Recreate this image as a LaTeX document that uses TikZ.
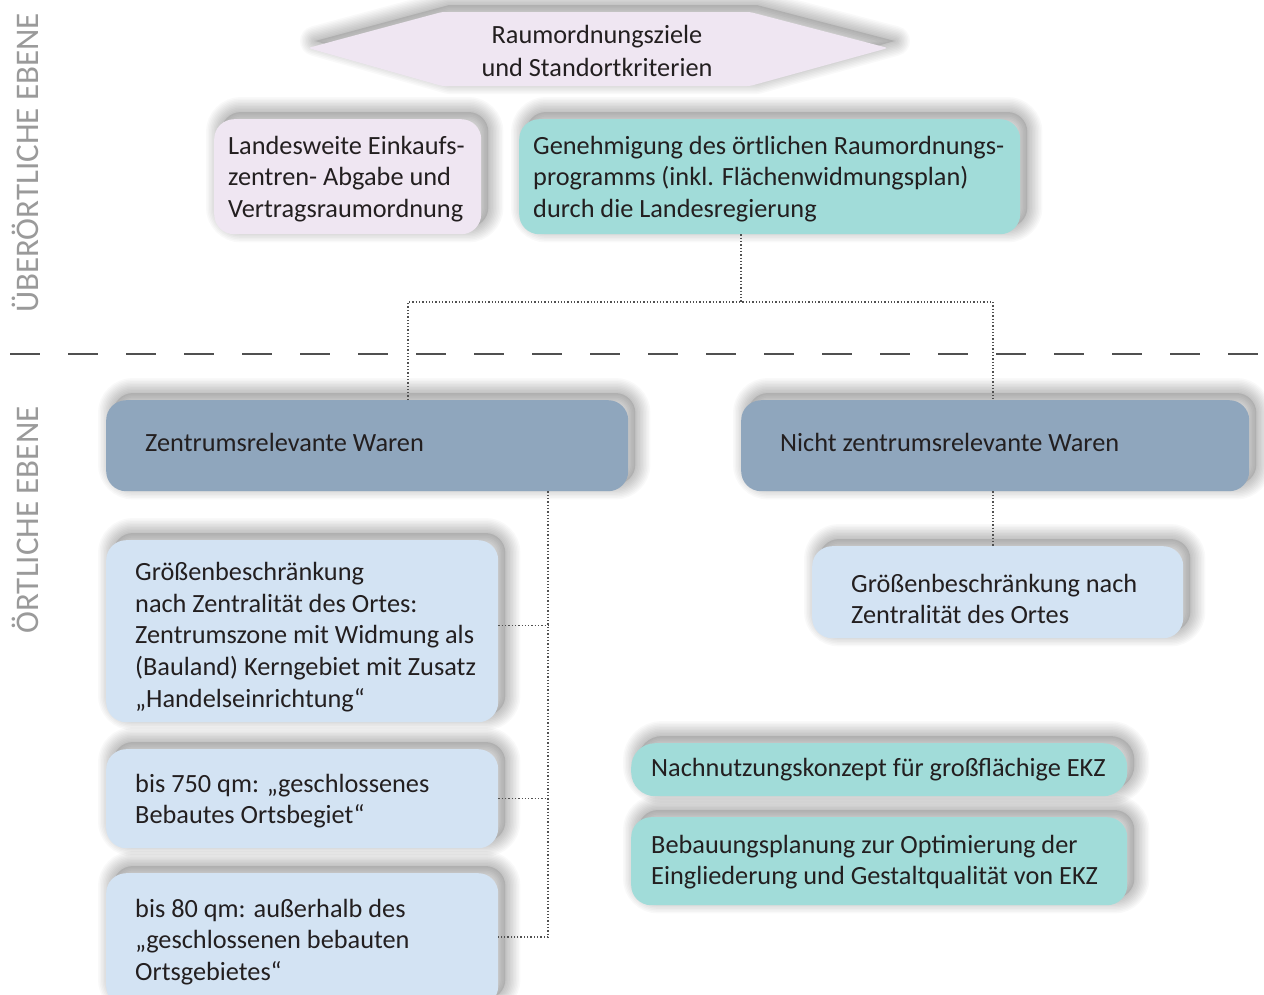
\documentclass[tikz,border=0pt]{standalone}
\usepackage{fontspec}
\setmainfont{Carlito}
\usetikzlibrary{calc}
\definecolor{lav}{HTML}{EFE6F2}
\definecolor{teal1}{HTML}{A1DCD9}
\definecolor{steel}{HTML}{8FA6BD}
\definecolor{lblue}{HTML}{D3E3F3}
\definecolor{ink}{HTML}{231F20}
\definecolor{lbl}{HTML}{9A9A9A}
\definecolor{conncol}{HTML}{505050}
\pgfdeclarelayer{bg}
\pgfdeclarelayer{shadowlayer}
\pgfsetlayers{bg,shadowlayer,main}
\tikzset{
  boxbase/.style={rectangle, rounded corners=20pt, anchor=north west, inner sep=0pt},
  lavbox/.style={boxbase, fill=lav},
  tealbox/.style={boxbase, fill=teal1},
  steelbox/.style={boxbase, fill=steel},
  bluebox/.style={boxbase, fill=lblue},
  txt/.style={anchor=west, align=left, inner sep=0pt, text=ink, font=\fontsize{26.3}{31.6}\selectfont},
  conn/.style={draw=conncol, line width=1.3pt, dotted},
  side/.style={text=lbl, font=\fontsize{33}{36}\selectfont, rotate=90, inner sep=0pt},
  shlayer/.style={black, opacity=0.022},
}
% soft shadow behind a named rounded box (offset up and right)
\newcommand{\softsh}[2]{%
  \begin{pgfonlayer}{shadowlayer}
    \foreach \w in {3,6,...,30} {
      \draw[shlayer, line width=\w pt, rounded corners=#2]
        ($(#1.south west)+(7pt,7pt)$) rectangle ($(#1.north east)+(7pt,7pt)$);
    }
    \fill[black, opacity=0.1, rounded corners=#2]
      ($(#1.south west)+(7pt,7pt)$) rectangle ($(#1.north east)+(7pt,7pt)$);
  \end{pgfonlayer}}
\begin{document}
\begin{tikzpicture}[x=1pt,y=-1pt]
\useasboundingbox (0,0) rectangle (1264,994);
\begin{pgfonlayer}{bg}
\fill[white] (0,0) rectangle (1264,994);
\end{pgfonlayer}

% side labels
\node[side] (lab1) at (25,163) {ÜBERÖRTLICHE EBENE};
\node[side] (lab2) at (25,520) {ÖRTLICHE EBENE};
\draw[conncol, line width=1.3pt, dash pattern=on 30pt off 28pt] (10,354) -- (1264,354);

% hexagon
\begin{pgfonlayer}{shadowlayer}
\begin{scope}[shift={(7pt,7pt)}]
  \foreach \w in {3,6,...,30} {
    \draw[shlayer, line width=\w pt, line join=round]
      (308,48) -- (442,12) -- (750,12) -- (888,48) -- (750,86) -- (442,86) -- cycle;
  }
  \fill[black, opacity=0.1] (308,48) -- (442,12) -- (750,12) -- (888,48) -- (750,86) -- (442,86) -- cycle;
\end{scope}
\end{pgfonlayer}
\fill[lav, rounded corners=3pt]
  (308,48) -- (442,12) -- (750,12) -- (888,48) -- (750,86) -- (442,86) -- cycle;
\node[txt, anchor=center, align=center, font=\fontsize{26.3}{33}\selectfont] (ziele) at (597,51) {Raumordnungsziele\\und Standortkriterien};

% top boxes
\node[lavbox, minimum width=267pt, minimum height=115pt] (land) at (214,119) {};
\softsh{land}{20pt}
\node[txt] (landt) at (228,179) {Landesweite Einkaufs-\\zentren- Abgabe und\\Vertragsraumordnung};
\node[tealbox, minimum width=501pt, minimum height=115pt] (gen) at (519,119) {};
\softsh{gen}{20pt}
\node[txt] (gent) at (533,179) {Genehmigung des örtlichen Raumordnungs-\\programms (inkl. Flächenwidmungsplan)\\durch die Landesregierung};

% level boxes
\node[steelbox, minimum width=522pt, minimum height=91pt] (zw) at (106,400) {};
\softsh{zw}{20pt}
\node[txt] (zwt) at (145,442) {Zentrumsrelevante Waren};
\node[steelbox, minimum width=508pt, minimum height=91pt] (nzw) at (741,400) {};
\softsh{nzw}{20pt}
\node[txt] (nzwt) at (780,442) {Nicht zentrumsrelevante Waren};

% left blue boxes
\node[bluebox, minimum width=392pt, minimum height=182pt] (b1) at (106,540) {};
\softsh{b1}{20pt}
\node[txt] (b1t) at (135,637) {Größenbeschränkung\\nach Zentralität des Ortes:\\Zentrumszone mit Widmung als\\(Bauland) Kerngebiet mit Zusatz\\„Handelseinrichtung“};
\node[bluebox, minimum width=392pt, minimum height=99pt] (b2) at (106,749) {};
\softsh{b2}{20pt}
\node[txt] (b2t) at (135,801) {bis 750 qm: „geschlossenes\\Bebautes Ortsbegiet“};
\node[bluebox, minimum width=392pt, minimum height=133pt] (b3) at (106,873) {};
\softsh{b3}{20pt}
\node[txt] (b3t) at (135,942) {bis 80 qm: außerhalb des\\„geschlossenen bebauten\\Ortsgebietes“};

% right blue box
\node[bluebox, minimum width=371pt, minimum height=92pt] (rb) at (812,546) {};
\softsh{rb}{20pt}
\node[txt] (rbt) at (851,599) {Größenbeschränkung nach\\Zentralität des Ortes};

% teal bottom boxes
\node[tealbox, rounded corners=24pt, minimum width=496pt, minimum height=53pt] (t1) at (631,743) {};
\softsh{t1}{24pt}
\node[txt] (t1t) at (651,770) {Nachnutzungskonzept für großflächige EKZ};
\node[tealbox, minimum width=496pt, minimum height=88pt] (t2) at (631,817) {};
\softsh{t2}{20pt}
\node[txt] (t2t) at (651,862) {Bebauungsplanung zur Optimierung der\\Eingliederung und Gestaltqualität von EKZ};

% connectors
\coordinate (j1) at (741,302);
\coordinate (jL) at (408,302);
\coordinate (jR) at (993,302);
\draw[conn] (gen.south -| j1) -- (j1);
\draw[conn] (zw.north -| jL) -- (jL) -- (jR) -- (nzw.north -| jR);
\coordinate (sp) at (548,937);
\draw[conn] (zw.south -| sp) -- (sp) -- (b3.east |- sp);
\draw[conn] ($(b1.east)+(0,-6)$) -- ($(b1.east -| sp)+(0,-6)$);
\draw[conn] (b2.east) -- (b2.east -| sp);
\draw[conn] (nzw.south -| jR) -- (rb.north -| jR);
\end{tikzpicture}
\end{document}
